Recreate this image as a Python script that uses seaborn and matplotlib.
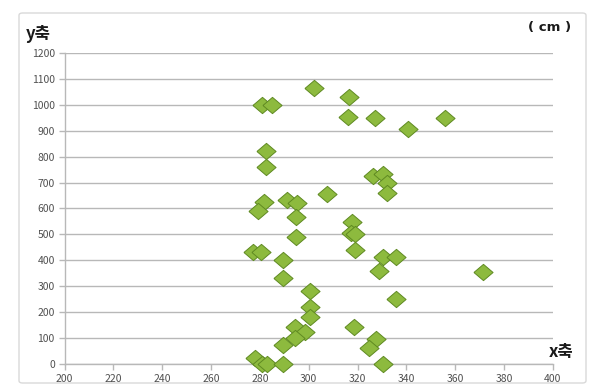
import matplotlib
matplotlib.use("Agg")
import matplotlib.pyplot as plt
from matplotlib.patches import FancyBboxPatch
import seaborn as sns
import pandas as pd

x_vals = [281, 285, 302, 316.5, 316, 327, 340.7, 355.7,
          282.7, 282.7,
          281.6, 279.3, 290.9, 295, 294.7, 307.5,
          326.2, 330.3, 331.9, 331.9,
          294.7, 277.3, 280.3, 289.5, 289.5,
          317.9, 317.5, 319, 318.9, 330.4, 335.9, 328.8, 371.4,
          300.4, 300.4, 300.7, 294.3, 298.4, 294.3, 289.5,
          277.9, 281, 283, 289.5,
          318.5, 335.6, 327.5, 324.7, 330.5]
y_vals = [1000, 1000, 1063, 1028, 952, 950, 905, 948,
          822, 759,
          624, 591, 633, 620, 568, 656,
          725, 733, 698, 659,
          491, 434, 434, 402, 334,
          549, 504, 500, 440, 412, 412, 360, 355,
          283, 222, 183, 145, 126, 100, 74,
          25, 0, 2, 2,
          142, 250, 96, 62, 0]
x_ticks = [200, 220, 240, 260, 280, 300, 320, 340, 360, 380, 400]
y_ticks = [0, 100, 200, 300, 400, 500, 600, 700, 800, 900, 1000, 1100, 1200]

df = pd.DataFrame({"x": x_vals, "y": y_vals})

sns.set_theme(style="white")
plt.rcParams['font.family'] = ['Noto Sans CJK KR', 'DejaVu Sans']

fig = plt.figure(figsize=(5.9, 3.88), dpi=100)
fig.patch.set_facecolor("white")
border = FancyBboxPatch((19/590, 5/388), 567/590, 370/388,
                        boxstyle="round,pad=0,rounding_size=0.006",
                        transform=fig.transFigure, fill=False,
                        edgecolor="#d9d9d9", linewidth=1.0)
fig.patches.append(border)

diamond = [(-1, 0), (0, 0.85), (1, 0), (0, -0.85), (-1, 0)]

ax = fig.add_axes([64.5/590, 1 - 364.3/388, (553 - 64.5)/590, (364.3 - 52.7)/388])
sns.scatterplot(data=df, x="x", y="y", ax=ax, marker=diamond, s=190,
                color="#8dba3e", edgecolor="#5f8a22", linewidth=0.7,
                zorder=3, clip_on=False)

ax.set_xlim(200, 400)
ax.set_ylim(0, 1200)
ax.set_xticks(x_ticks)
ax.set_yticks(y_ticks)
ax.set_xticklabels([str(v) for v in x_ticks])
ax.set_yticklabels([str(v) for v in y_ticks])
ax.set_xlabel("")
ax.set_ylabel("")
ax.yaxis.grid(True, color="#b8b8b8", linewidth=1.0)
ax.xaxis.grid(False)
for s in ["top", "right"]:
    ax.spines[s].set_visible(False)
for s in ["left", "bottom"]:
    ax.spines[s].set_color("#b8b8b8")
    ax.spines[s].set_linewidth(1.0)
ax.tick_params(axis="both", which="both", direction="out", length=4,
               width=1.0, color="#b8b8b8", labelsize=7.5, labelcolor="#505050",
               pad=3, left=True, bottom=True)
ax.set_axisbelow(True)

fig.text(26/590, 1 - 34/388, "y축", fontsize=12, fontweight="bold",
         color="#1a1a1a", va="center", ha="left")
fig.text(571/590, 1 - 28/388, "( cm )", fontsize=9.5, fontweight="bold",
         color="#1a1a1a", va="center", ha="right",
         family=["DejaVu Sans"])
fig.text(573/590, 1 - 352/388, "x축", fontsize=12, fontweight="bold",
         color="#1a1a1a", va="center", ha="right")

fig.savefig("out.png", dpi=100, facecolor="white")
